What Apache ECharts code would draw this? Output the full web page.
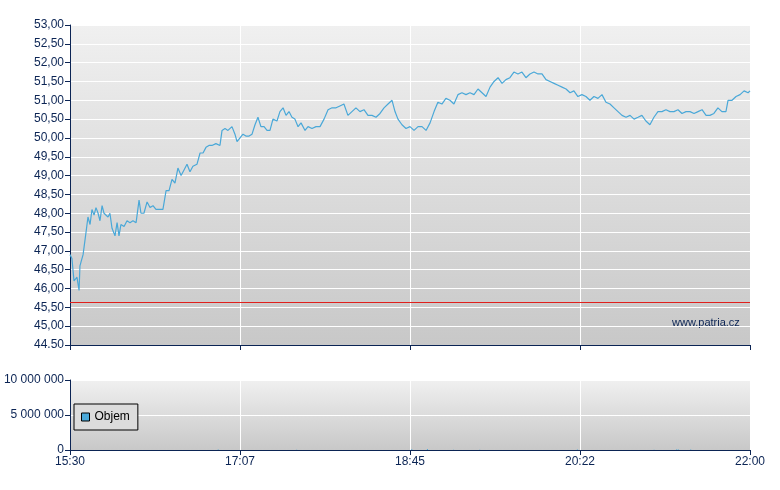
<!DOCTYPE html>
<html><head><meta charset="utf-8">
<script src="https://cdn.jsdelivr.net/npm/echarts@6/dist/echarts.min.js"></script>
<style>html,body{margin:0;padding:0;background:#fff}#c{width:780px;height:490px}</style>
</head><body><div id="c"></div>
<script>
const times=[0,1.1,2.3,4,5.2,5.7,7.5,9.2,10.3,11.5,12.6,13.8,14.9,16.1,17.2,18.4,19.5,20.6,21.8,22.9,24.1,25.8,27,28.1,29.2,31,32.7,34.4,36.1,37.9,39.6,40.7,42.4,44.2,45.9,47.6,49.3,51.6,53.3,55.1,56.8,58.5,60.2,61.9,63.7,65.4,67.1,68.8,70.5,72.8,74.6,76.3,78,79.7,81.4,83.7,86,87.2,88.9,90.6,92.9,94.6,95.8,97.5,99.2,100.9,102.7,104.4,106.1,107.8,109.5,111.3,113,114.7,116.4,118.7,120.4,122.2,123.9,125.6,127.3,129,130.8,132.5,134.8,136.5,138.8,141.1,143.4,145.7,148,150.3,152.6,154.8,157.1,159.4,161.7,164,166.3,168.6,170.9,173.2,175.5,177.8,180.1,182.4,184.7,186.4,188.1,190.4,192.7,195,197.3,199.6,201.9,204.2,206.5,208.8,211,213.3,215.6,217.9,220.2,222.5,224.8,227.1,229.4,231.7,234,236.3,238.6,240.9,243.2,245.5,247.8,250,252.3,254.6,256.9,259.2,261.5,263.8,266.1,268.4,270.7,273,275.3,277.6,279.9,282.2,284.5,286.8,289,291.3,293.6,295.9,298.2,300.5,302.8,305.1,307.4,309.7,312,314.3,316.6,318.9,321.2,323.5,325.8,328,330.3,332.6,334.9,337.2,339.5,341.8,344.1,346.4,348.7,351,353.3,355.6,357.9,360.2,362.5,364.8,367,369.3,371.6,373.9,376.2,377.4,379.7,382,384.3,386.6,388.9,390];
const prices=[46.9,46.8,46.2,46.3,45.95,46.6,46.9,47.5,47.9,47.7,48.1,47.95,48.15,48.0,47.8,48.2,48.0,48.0,47.9,48.0,47.6,47.4,47.75,47.4,47.7,47.65,47.8,47.75,47.8,47.75,48.35,48.0,48.0,48.3,48.15,48.2,48.1,48.1,48.1,48.6,48.6,48.9,48.8,49.2,49.0,49.15,49.3,49.1,49.25,49.3,49.6,49.6,49.75,49.8,49.8,49.85,49.8,50.2,50.25,50.2,50.3,50.1,49.9,50.0,50.1,50.05,50.05,50.1,50.35,50.55,50.3,50.3,50.2,50.2,50.5,50.45,50.7,50.8,50.6,50.7,50.55,50.5,50.3,50.4,50.2,50.3,50.25,50.3,50.3,50.5,50.75,50.8,50.8,50.85,50.9,50.6,50.7,50.8,50.7,50.75,50.6,50.6,50.55,50.65,50.8,50.9,51.0,50.7,50.5,50.35,50.25,50.3,50.2,50.3,50.3,50.2,50.4,50.7,50.95,50.9,51.05,51.0,50.9,51.15,51.2,51.15,51.2,51.15,51.3,51.2,51.1,51.35,51.5,51.6,51.45,51.55,51.6,51.75,51.7,51.75,51.6,51.7,51.75,51.7,51.7,51.55,51.5,51.45,51.4,51.35,51.3,51.2,51.25,51.1,51.15,51.1,51.0,51.1,51.05,51.15,50.95,50.9,50.8,50.7,50.6,50.55,50.6,50.5,50.55,50.6,50.45,50.35,50.55,50.7,50.7,50.75,50.7,50.7,50.75,50.65,50.7,50.7,50.65,50.7,50.75,50.6,50.6,50.65,50.8,50.7,50.7,51.0,51.0,51.1,51.15,51.25,51.2,51.25];
const volTimes=[85,130,196,205,220,235,291,335,348,349,356];
const volumes=[60000,50000,90000,150000,50000,40000,60000,40000,100000,80000,60000];
const refPrice=45.63;
const xTicks=['15:30','17:07','18:45','20:22','22:00'];

const axisCol='#0b2454';
const bg={type:'linear',x:0,y:0,x2:0,y2:1,colorStops:[{offset:0,color:'#f0f0f0'},{offset:1,color:'#c8c8c8'}]};
const font='Liberation Sans';
function xa(idx,labels){return {type:'value',gridIndex:idx,min:0,max:390,interval:97.5,
 axisLine:{lineStyle:{color:axisCol}},axisTick:{show:true,length:5,lineStyle:{color:axisCol}},
 splitLine:{show:true,lineStyle:{color:'#ffffff',width:1}},
 axisLabel:{show:labels,color:axisCol,fontFamily:font,fontSize:12,margin:6,formatter:v=>xTicks[Math.round(v/97.5)]}};}
const chart=echarts.init(document.getElementById('c'));
chart.setOption({
 animation:false,
 grid:[{left:70,right:30,top:25,height:320,show:true,backgroundColor:bg,borderWidth:0},
       {left:70,right:30,top:380,height:70,show:true,backgroundColor:bg,borderWidth:0}],
 xAxis:[xa(0,false),xa(1,true)],
 yAxis:[{type:'value',gridIndex:0,min:44.5,max:53,interval:0.5,
   axisLine:{show:true,lineStyle:{color:axisCol}},axisTick:{show:true,length:5,lineStyle:{color:axisCol}},
   splitLine:{lineStyle:{color:'#ffffff'}},
   axisLabel:{color:axisCol,fontFamily:font,fontSize:12,margin:6,formatter:v=>v===44.5?'44.50':v.toFixed(2).replace('.',',')}},
  {type:'value',gridIndex:1,min:0,max:10000000,interval:5000000,
   axisLine:{show:true,lineStyle:{color:axisCol}},axisTick:{show:true,length:5,lineStyle:{color:axisCol}},
   splitLine:{lineStyle:{color:'#ffffff'}},
   axisLabel:{color:axisCol,fontFamily:font,fontSize:12,margin:6,formatter:v=>v.toString().replace(/\B(?=(\d{3})+(?!\d))/g,' ')}}],
 legend:{data:['Objem'],left:74,top:404,orient:'vertical',backgroundColor:'#dcdcdc',borderColor:'#000',borderWidth:1,borderRadius:0,
   padding:[7,8,7,7],itemWidth:8,itemHeight:8,itemGap:4,textStyle:{fontFamily:font,fontSize:12,color:'#000'},
   icon:'rect',itemStyle:{borderColor:'#000',borderWidth:1}},
 graphic:[{type:'text',left:672,top:317,style:{text:'www.patria.cz',fill:'#0b2454',font:'11px Liberation Sans'}}],
 series:[
  {type:'line',xAxisIndex:0,yAxisIndex:0,data:times.map((t,i)=>[t,prices[i]]),showSymbol:false,
   lineStyle:{color:'#4aa8d8',width:1.2},
   markLine:{symbol:'none',silent:true,label:{show:false},lineStyle:{color:'#e0201c',width:1,type:'solid'},data:[{yAxis:refPrice}]}},
  {name:'Objem',type:'bar',xAxisIndex:1,yAxisIndex:1,data:volTimes.map((t,i)=>[t,volumes[i]]),barWidth:1,
   itemStyle:{color:'#4aa8d8'}}
 ]
});
</script></body></html>
